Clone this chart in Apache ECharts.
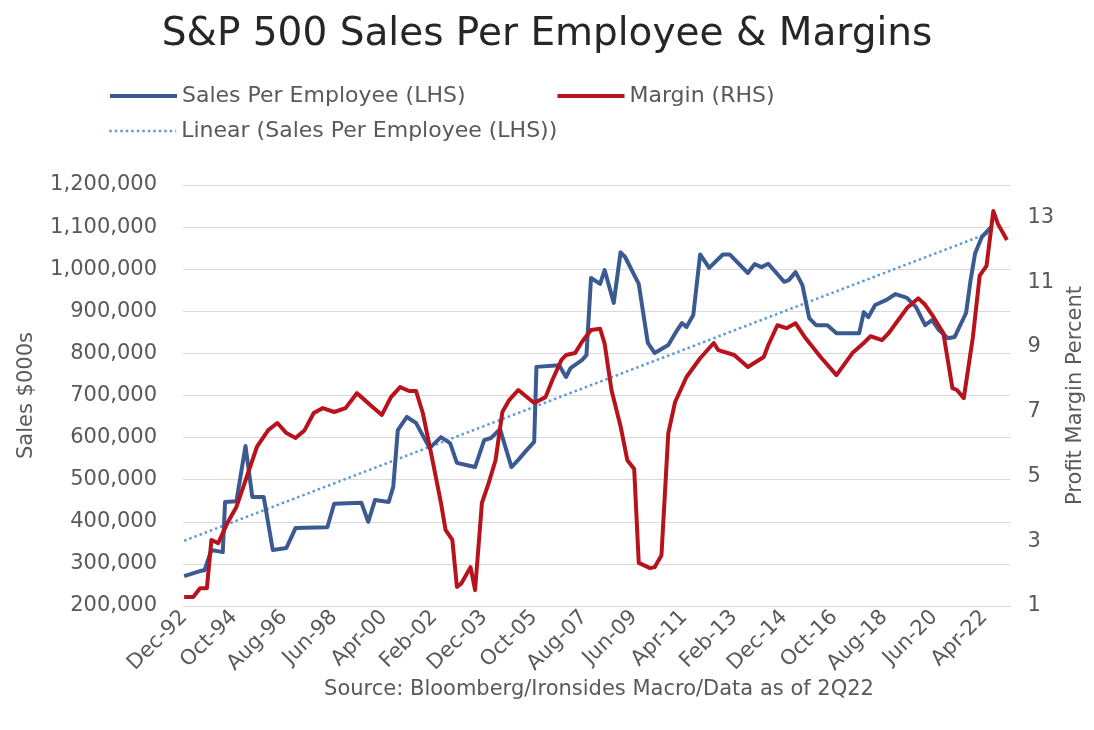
<!DOCTYPE html>
<html>
<head>
<meta charset="utf-8">
<script src="https://cdn.jsdelivr.net/npm/echarts@6/dist/echarts.min.js"></script>
<style>
html,body{margin:0;padding:0;background:#fff;}
#chart{width:1094px;height:730px;}
</style>
</head>
<body>
<div id="chart"></div>
<script>
// ---- data ----
const monthNames = ['Jan','Feb','Mar','Apr','May','Jun','Jul','Aug','Sep','Oct','Nov','Dec'];
const firstYear = 1992, firstMonth = 12, monthCount = 364;

const salesDates = ['1992-12','1993-07','1993-09','1993-12','1994-05','1994-06','1994-11','1995-03','1995-06','1995-11','1996-03','1996-09','1997-01','1998-03','1998-06','1999-06','1999-09','1999-12','2000-06','2000-08','2000-10','2001-02','2001-06','2001-12','2002-05','2002-09','2002-12','2003-04','2003-08','2003-12','2004-03','2004-07','2004-12','2005-03','2005-06','2005-10','2005-11','2006-09','2006-12','2007-02','2007-07','2007-09','2007-11','2008-03','2008-05','2008-09','2008-12','2009-02','2009-08','2009-12','2010-03','2010-09','2011-01','2011-03','2011-05','2011-08','2011-11','2012-03','2012-09','2012-12','2013-08','2013-11','2014-02','2014-05','2014-12','2015-02','2015-05','2015-08','2015-11','2016-02','2016-07','2016-11','2017-09','2017-11','2018-01','2018-04','2018-09','2019-01','2019-06','2019-10','2020-02','2020-05','2020-08','2020-12','2021-03','2021-08','2021-10','2021-12','2022-03','2022-07'];
const salesValues = [271000,283000,285000,333000,328000,447000,449000,580000,459000,459000,333000,338000,385000,387000,443000,445000,400000,452000,447000,483000,618000,649000,635000,575000,601000,587000,540000,535000,530000,594000,599000,620000,530000,547000,566000,590000,768000,772000,744000,765000,784000,796000,979000,965000,998000,920000,1040000,1029000,965000,825000,801000,820000,856000,872000,863000,891000,1035000,1003000,1035000,1035000,991000,1012000,1005000,1013000,970000,974000,993000,962000,884000,867000,867000,848000,848000,898000,886000,915000,927000,941000,932000,910000,867000,879000,856000,836000,839000,896000,974000,1038000,1077000,1100000];

const marginDates = ['1992-12','1993-04','1993-07','1993-10','1993-12','1994-03','1994-07','1994-11','1995-02','1995-05','1995-08','1996-01','1996-05','1996-09','1997-01','1997-05','1997-09','1998-01','1998-06','1998-11','1999-04','1999-06','1999-11','2000-03','2000-07','2000-11','2001-03','2001-06','2001-09','2002-01','2002-05','2002-07','2002-10','2002-12','2003-02','2003-06','2003-08','2003-11','2004-02','2004-05','2004-08','2004-11','2005-03','2005-10','2006-03','2006-06','2006-10','2006-12','2007-04','2007-07','2007-11','2008-03','2008-05','2008-08','2008-12','2009-03','2009-06','2009-08','2010-01','2010-03','2010-06','2010-09','2010-12','2011-05','2011-11','2012-05','2012-07','2013-02','2013-08','2014-03','2014-05','2014-09','2015-01','2015-05','2015-09','2016-04','2016-11','2017-06','2017-11','2018-02','2018-07','2018-10','2019-06','2019-11','2020-02','2020-05','2020-10','2021-02','2021-04','2021-07','2021-11','2022-02','2022-05','2022-08','2022-10','2023-02'];
const marginValues = [1.28,1.28,1.55,1.55,3.04,2.94,3.56,4.06,4.67,5.29,5.91,6.43,6.65,6.34,6.19,6.43,6.96,7.11,6.99,7.11,7.57,7.45,7.14,6.9,7.45,7.76,7.64,7.64,6.96,5.6,4.18,3.35,3.04,1.59,1.7,2.2,1.49,4.18,4.8,5.5,6.99,7.36,7.67,7.27,7.45,7.98,8.6,8.75,8.81,9.15,9.52,9.56,9.1,7.67,6.55,5.5,5.23,2.33,2.17,2.2,2.57,6.34,7.3,8.07,8.65,9.12,8.9,8.75,8.38,8.69,9.06,9.67,9.58,9.73,9.31,8.69,8.13,8.81,9.12,9.33,9.21,9.43,10.2,10.5,10.3,10.0,9.43,7.73,7.67,7.42,9.3,11.2,11.5,13.2,12.8,12.3];

const trendDates = ['1992-12','2022-07'];
const trendValues = [355000,1088000];

const leftTicks = {min:200000, max:1200000, step:100000};
const rightTicks = {min:1, max:14, step:1, labelled:[1,3,5,7,9,11,13]};

// ---- build categories (monthly) ----
const categories = [];
for (let i = 0; i < monthCount; i++) {
  const t = firstYear * 12 + (firstMonth - 1) + i;
  const y = Math.floor(t / 12), m = t % 12;
  categories.push(monthNames[m] + '-' + String(y % 100).padStart(2, '0'));
}
function toCat(d) {
  const p = d.split('-').map(Number);
  return categories[(p[0] - firstYear) * 12 + (p[1] - firstMonth)];
}
function pairs(dates, vals) { return dates.map((d, i) => [toCat(d), vals[i]]); }

const FONT = 'DejaVu Sans';
const GREY = '#595959';
const BLUE = '#3b5a91';
const RED = '#b8131c';
const TREND = '#5b9bd5';

const chart = echarts.init(document.getElementById('chart'), null, {renderer: 'canvas'});
chart.setOption({
  animation: false,
  backgroundColor: '#ffffff',
  title: {
    text: 'S&P 500 Sales Per Employee & Margins',
    left: 'center',
    top: 10,
    textStyle: {fontFamily: FONT, fontSize: 39, fontWeight: 'normal', color: '#262626'}
  },
  legend: [
    {
      left: 103, top: 80, itemWidth: 67, itemHeight: 24, itemGap: 90,
      itemStyle: {opacity: 0, borderWidth: 0},
      lineStyle: {width: 4},
      data: ['Sales Per Employee (LHS)', 'Margin (RHS)'],
      textStyle: {fontFamily: FONT, fontSize: 22, color: GREY}
    },
    {
      left: 103, top: 115, itemWidth: 67, itemHeight: 24,
      itemStyle: {opacity: 0, borderWidth: 0},
      lineStyle: {width: 2.5},
      data: ['Linear (Sales Per Employee (LHS))'],
      textStyle: {fontFamily: FONT, fontSize: 22, color: GREY}
    }
  ],
  grid: {left: 183, right: 79, top: 185, bottom: 124, containLabel: false},
  xAxis: {
    type: 'category',
    data: categories,
    boundaryGap: true,
    axisTick: {show: false},
    axisLine: {lineStyle: {color: '#d9d9d9', width: 1}},
    axisLabel: {interval: 21, rotate: 45, margin: 8, fontFamily: FONT, fontSize: 21, color: GREY}
  },
  yAxis: [
    {
      type: 'value', min: leftTicks.min, max: leftTicks.max, interval: leftTicks.step,
      name: 'Sales $000s', nameLocation: 'middle', nameGap: 146, nameRotate: 90,
      nameTextStyle: {fontFamily: FONT, fontSize: 21, color: GREY},
      axisLine: {show: false}, axisTick: {show: false},
      axisLabel: {margin: 26, fontFamily: FONT, fontSize: 21, color: GREY,
        formatter: v => v.toLocaleString('en-US')},
      splitLine: {lineStyle: {color: '#d9d9d9', width: 1}}
    },
    {
      type: 'value', min: rightTicks.min, max: rightTicks.max, interval: rightTicks.step,
      position: 'right',
      name: 'Profit Margin Percent', nameLocation: 'middle', nameGap: 54, nameRotate: 90,
      nameTextStyle: {fontFamily: FONT, fontSize: 21, color: GREY},
      axisLine: {show: false}, axisTick: {show: false},
      axisLabel: {margin: 17, fontFamily: FONT, fontSize: 21, color: GREY,
        formatter: v => rightTicks.labelled.indexOf(v) >= 0 ? String(v) : ''},
      splitLine: {show: false}
    }
  ],
  series: [
    {
      name: 'Sales Per Employee (LHS)', type: 'line', yAxisIndex: 0,
      data: pairs(salesDates, salesValues),
      symbol: 'none', z: 3,
      lineStyle: {color: BLUE, width: 4, join: 'round'},
      itemStyle: {color: BLUE}
    },
    {
      name: 'Margin (RHS)', type: 'line', yAxisIndex: 1,
      data: pairs(marginDates, marginValues),
      symbol: 'none', z: 4,
      lineStyle: {color: RED, width: 4, join: 'round'},
      itemStyle: {color: RED}
    },
    {
      name: 'Linear (Sales Per Employee (LHS))', type: 'line', yAxisIndex: 0,
      data: pairs(trendDates, trendValues),
      symbol: 'none', z: 2,
      lineStyle: {color: TREND, width: 2.5, type: [2.5, 3]},
      itemStyle: {color: TREND}
    }
  ],
  graphic: [
    {
      type: 'text', x: 599, y: 690,
      style: {
        text: 'Source: Bloomberg/Ironsides Macro/Data as of 2Q22',
        align: 'center', verticalAlign: 'middle',
        font: '21px "DejaVu Sans"', fill: GREY
      }
    }
  ]
});
</script>
</body>
</html>
